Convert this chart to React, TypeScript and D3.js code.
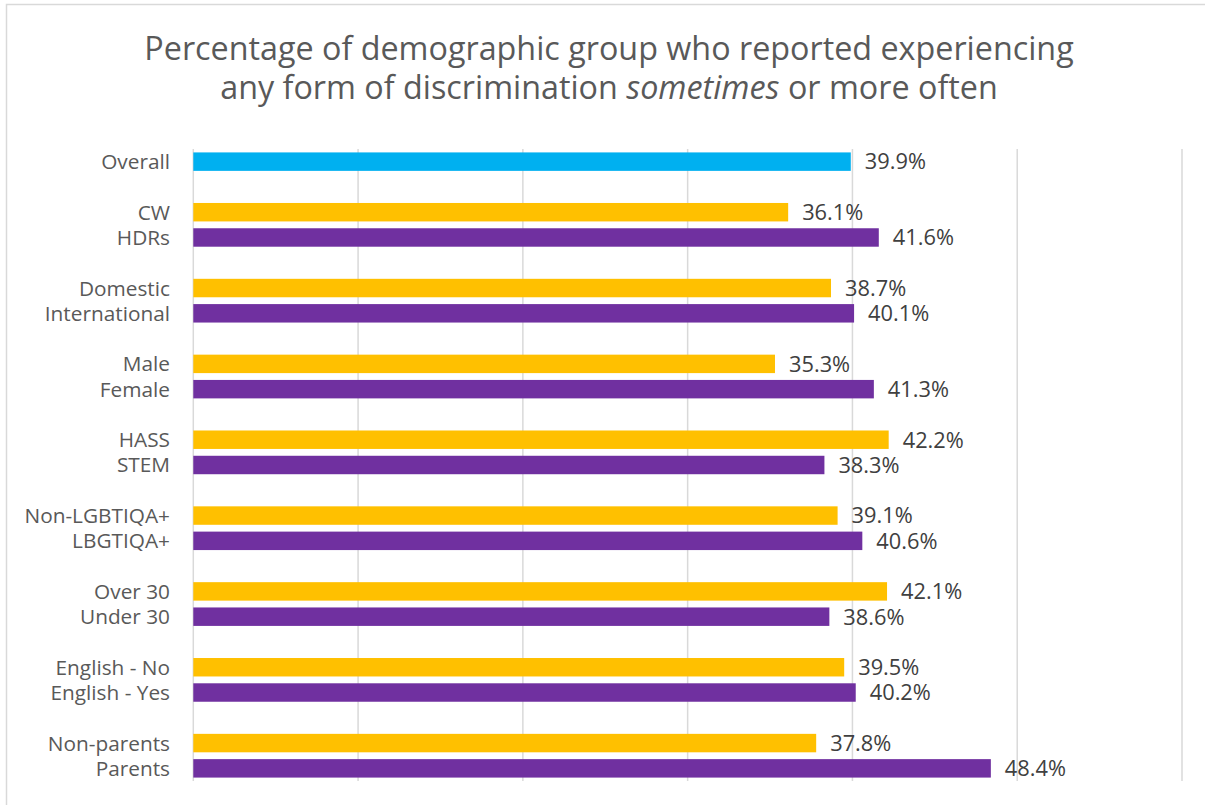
import React from "react";
import * as d3 from "d3";

const groups: string[][] = [
  ["Overall"],
  ["CW", "HDRs"],
  ["Domestic", "International"],
  ["Male", "Female"],
  ["HASS", "STEM"],
  ["Non-LGBTIQA+", "LBGTIQA+"],
  ["Over 30", "Under 30"],
  ["English - No", "English - Yes"],
  ["Non-parents", "Parents"],
];
const values: number[][] = [
  [39.9],
  [36.1, 41.6],
  [38.7, 40.1],
  [35.3, 41.3],
  [42.2, 38.3],
  [39.1, 40.6],
  [42.1, 38.6],
  [39.5, 40.2],
  [37.8, 48.4],
];
const xTicks = [0, 10, 20, 30, 40, 50, 60];
const COLORS = { overall: "#00B0F0", first: "#FFC000", second: "#7030A0" };

type Row = { key: string; label: string; value: number | null; color: string };

const rows: Row[] = [];
groups.forEach((g, gi) => {
  if (gi > 0) rows.push({ key: `gap-${gi}`, label: "", value: null, color: "" });
  g.forEach((label, i) => {
    const color = gi === 0 ? COLORS.overall : i === 0 ? COLORS.first : COLORS.second;
    rows.push({ key: label, label, value: values[gi][i], color });
  });
});

export default function App() {
  const W = 1205, H = 805;
  const left = 193.3, right = 1182, top = 149, bottom = 781;
  const x = d3.scaleLinear().domain([0, 60]).range([left, right]);
  const y = d3.scaleBand<string>().domain(rows.map((r) => r.key)).range([top, bottom]).paddingInner(0.27).paddingOuter(0.135);
  const font = "'Open Sans', 'Segoe UI', sans-serif";
  return (
    <svg width={W} height={H} style={{ position: "absolute", left: 0, top: 0, background: "#fff" }} fontFamily={font}>
      <rect x={6.5} y={4.5} width={W + 10} height={H + 10} fill="#fff" stroke="#d9d9d9" strokeWidth={1.5} />
      <text x={609} y={60} textAnchor="middle" fontSize={32.3} fill="#595959">
        Percentage of demographic group who reported experiencing
      </text>
      <text x={609} y={98.5} textAnchor="middle" fontSize={32.3} fill="#595959">
        any form of discrimination <tspan fontStyle="italic">sometimes</tspan> or more often
      </text>
      {xTicks.map((t) => (
        <line key={t} x1={x(t)} x2={x(t)} y1={top} y2={bottom} stroke="#d9d9d9" strokeWidth={1.5} />
      ))}
      {rows.filter((r) => r.value !== null).map((r) => {
        const yy = y(r.key)!;
        const bw = y.bandwidth();
        return (
          <g key={r.key}>
            <rect x={x(0)} y={yy} width={x(r.value!) - x(0)} height={bw} fill={r.color} />
            <text x={170} y={yy + bw / 2} dy="0.36em" textAnchor="end" fontSize={20.8} fill="#595959">
              {r.label}
            </text>
            <text x={x(r.value!) + 14} y={yy + bw / 2} dy="0.36em" fontSize={21.8} fill="#404040">
              {r.value!.toFixed(1)}%
            </text>
          </g>
        );
      })}
    </svg>
  );
}
